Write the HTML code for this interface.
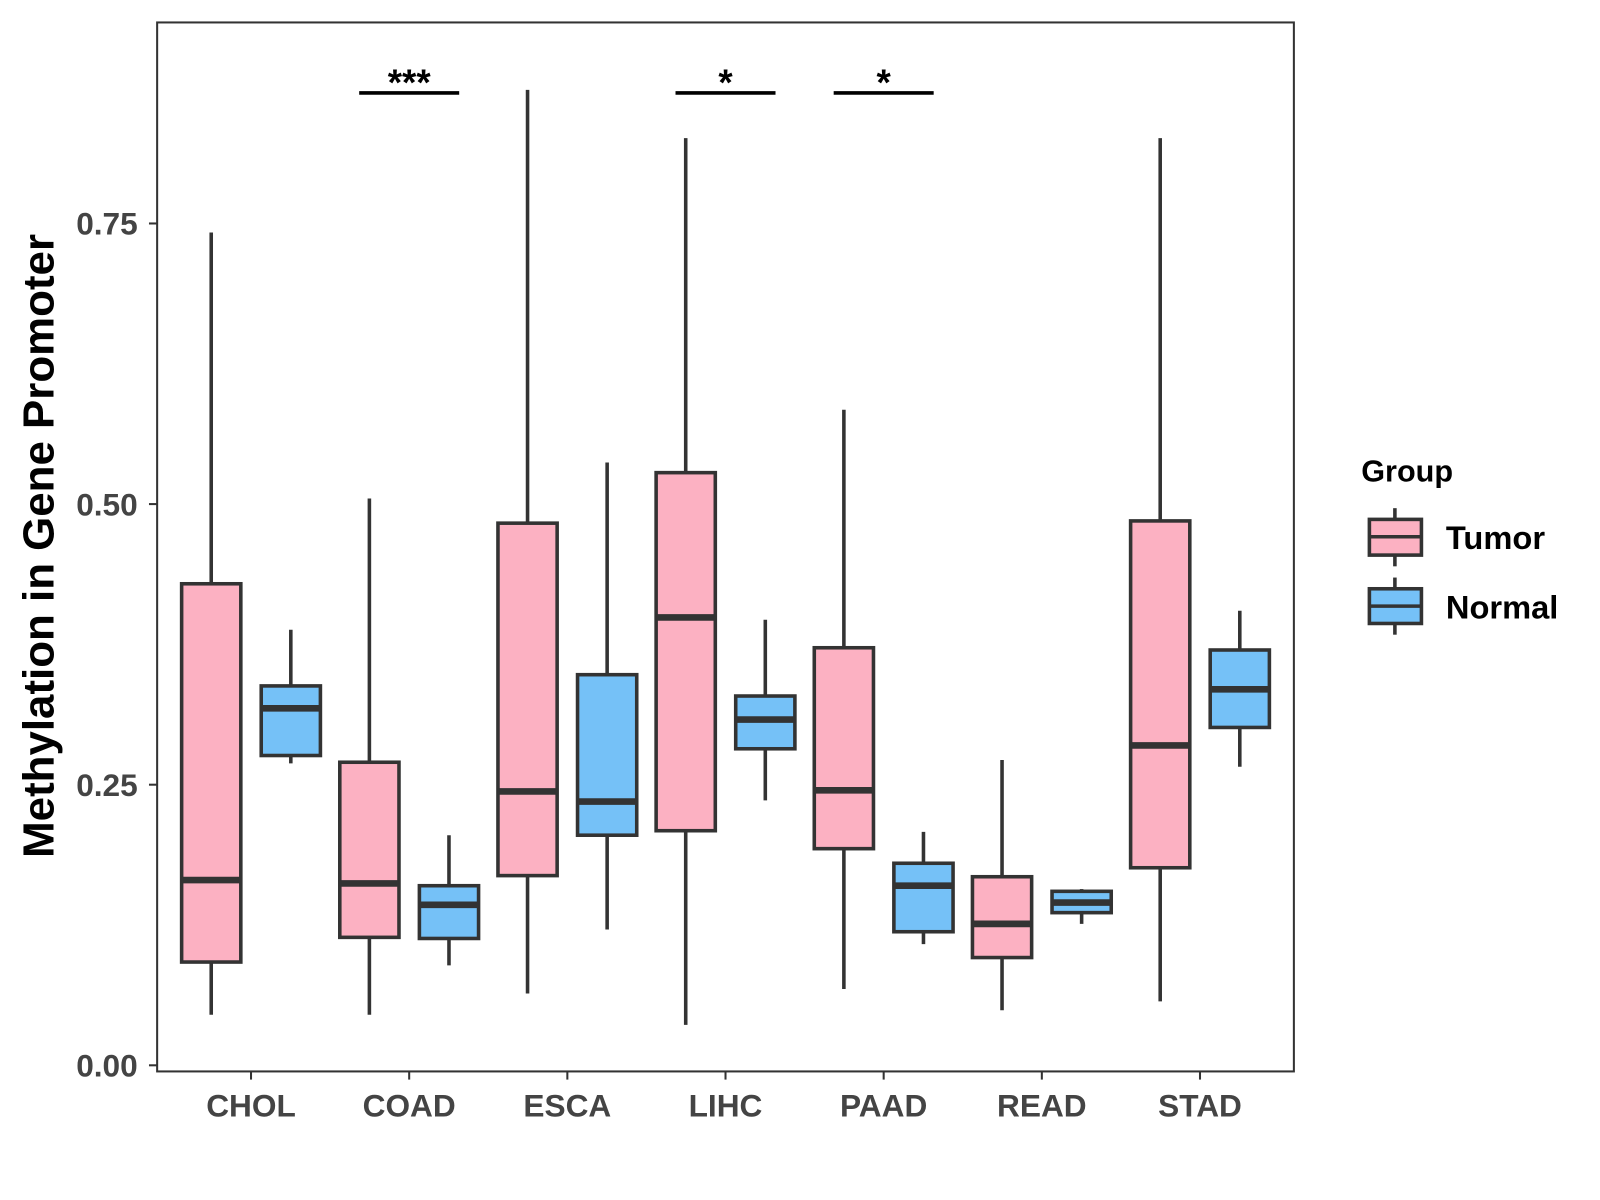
<!DOCTYPE html>
<html><head><meta charset="utf-8"><style>
html,body{margin:0;padding:0;background:#fff}
svg{display:block;font-family:"Liberation Sans",Arial,sans-serif}
</style></head><body>
<svg id="chart" width="1600" height="1200" viewBox="0 0 1568 1176" preserveAspectRatio="none">
<rect x="0" y="0" width="1568" height="1176" fill="#fff"/>
<g id="marks"></g>
<rect x="154" y="22" width="1114" height="1028" fill="none" stroke="#333" stroke-width="2"/>
<g id="axes"></g>
<text x="38" y="535" transform="rotate(-90 38 535)" text-anchor="middle" dominant-baseline="central" font-size="43" font-weight="bold" fill="#000">Methylation in Gene Promoter</text>
<g>
<text x="1334" y="472" font-size="30" font-weight="bold">Group</text>
<g>
<line x1="1367" y1="498" x2="1367" y2="555" stroke="#333" stroke-width="3.5"/>
<rect x="1342" y="509" width="51" height="35" fill="#FCB1C2" stroke="#333" stroke-width="3.5"/>
<line x1="1342" y1="526" x2="1393" y2="526" stroke="#333" stroke-width="3.5"/>
<text x="1417" y="538" font-size="32" font-weight="bold">Tumor</text></g>
<g>
<line x1="1367" y1="566" x2="1367" y2="622" stroke="#333" stroke-width="3.5"/>
<rect x="1342" y="577" width="51" height="34" fill="#75C1F7" stroke="#333" stroke-width="3.5"/>
<line x1="1342" y1="594" x2="1393" y2="594" stroke="#333" stroke-width="3.5"/>
<text x="1417" y="606" font-size="32" font-weight="bold">Normal</text></g>
</g>
</svg>
<script>
const categories=["CHOL","COAD","ESCA","LIHC","PAAD","READ","STAD"];
// [low, q1, median, q3, high]
const tumorStats=[[0.045,0.092,0.165,0.429,0.742],[0.045,0.114,0.162,0.27,0.505],[0.064,0.169,0.244,0.483,0.869],[0.036,0.209,0.399,0.528,0.826],[0.068,0.193,0.245,0.372,0.584],[0.049,0.096,0.126,0.168,0.272],[0.057,0.176,0.285,0.485,0.826]];
const normalStats=[[0.269,0.276,0.318,0.338,0.388],[0.089,0.113,0.143,0.16,0.205],[0.121,0.205,0.235,0.348,0.537],[0.236,0.282,0.308,0.329,0.397],[0.108,0.119,0.16,0.18,0.208],[0.126,0.136,0.145,0.155,0.157],[0.266,0.301,0.335,0.37,0.405]];
const yTicks=[0,0.25,0.5,0.75];
const yTickLabels=["0.00","0.25","0.50","0.75"];
const sigCategories=["COAD","LIHC","PAAD"];
const sigLabels=["***","*","*"];
const sigLevel=0.869;

const NS="http://www.w3.org/2000/svg";
const y=v=>1044-1100*v;
const x=i=>246+155*i;
function mk(tag,attrs,parent,txt){const e=document.createElementNS(NS,tag);for(const k in attrs)e.setAttribute(k,attrs[k]);if(txt!==undefined)e.textContent=txt;parent.appendChild(e);return e;}
const marks=document.getElementById('marks'),axes=document.getElementById('axes');
function box(s,cx,fill,name){
  const g=mk('g',{},marks);
  
  
  mk('line',{x1:cx,x2:cx,y1:y(s[4]),y2:y(s[0]),stroke:'#333','stroke-width':3.5},g);
  mk('rect',{x:cx-29,y:y(s[3]),width:58,height:y(s[1])-y(s[3]),fill:fill,stroke:'#333','stroke-width':3.5},g);
  mk('line',{x1:cx-29,x2:cx+29,y1:y(s[2]),y2:y(s[2]),stroke:'#333','stroke-width':6.5},g);
}
categories.forEach((c,i)=>{
  box(tumorStats[i],x(i)-39,'#FCB1C2','box-tumor-'+c.toLowerCase());
  box(normalStats[i],x(i)+39,'#75C1F7','box-normal-'+c.toLowerCase());
  const t=mk('line',{x1:x(i),x2:x(i),y1:1050,y2:1058,stroke:'#333','stroke-width':2},axes);
  
  
  const l=mk('text',{x:x(i),y:1094,'text-anchor':'middle','font-size':31,'font-weight':'bold',fill:'#444'},axes,c);
  
  
});
yTicks.forEach((v,i)=>{
  const t=mk('line',{x1:146,x2:154,y1:y(v),y2:y(v),stroke:'#333','stroke-width':2},axes);
  
  
  const l=mk('text',{x:135,y:y(v)+11,'text-anchor':'end','font-size':31,'font-weight':'bold',fill:'#444'},axes,yTickLabels[i]);
  
  
});
sigCategories.forEach((c,j)=>{
  const i=categories.indexOf(c);
  const g=mk('g',{},marks);
  
  
  const by=y(sigLevel)+3;
  mk('line',{x1:x(i)-49,x2:x(i)+49,y1:by,y2:by,stroke:'#000','stroke-width':3.5},g);
  mk('text',{x:x(i),y:by+2,'text-anchor':'middle','font-size':36,'font-weight':'bold'},g,sigLabels[j]);
});
</script>
</body></html>
